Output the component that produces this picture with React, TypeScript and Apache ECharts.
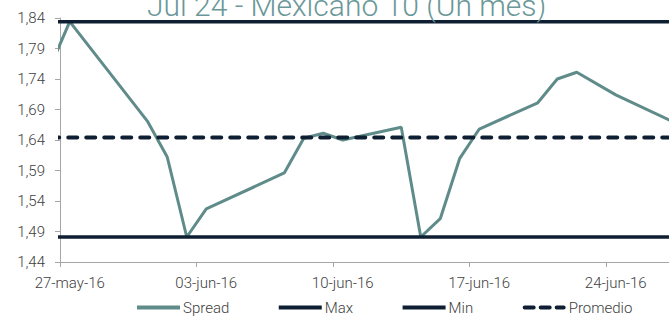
import React, { useEffect, useRef } from "react";
import * as echarts from "echarts";

const dates = [
  "2016-05-26", "2016-05-27", "2016-05-31", "2016-06-01", "2016-06-02",
  "2016-06-03", "2016-06-07", "2016-06-08", "2016-06-09", "2016-06-10",
  "2016-06-13", "2016-06-14", "2016-06-15", "2016-06-16", "2016-06-17",
  "2016-06-20", "2016-06-21", "2016-06-22", "2016-06-24", "2016-06-27",
];
const spread = [
  1.76, 1.834, 1.67, 1.612, 1.481,
  1.527, 1.586, 1.643, 1.651, 1.64,
  1.661, 1.481, 1.511, 1.61, 1.658,
  1.701, 1.74, 1.751, 1.714, 1.669,
];
const maxValue = 1.834;
const minValue = 1.481;
const promedioValue = 1.644;

const xTickDates = ["2016-05-27", "2016-06-03", "2016-06-10", "2016-06-17", "2016-06-24"];
const yTicks = [1.44, 1.49, 1.54, 1.59, 1.64, 1.69, 1.74, 1.79, 1.84];
const monthNames = ["ene", "feb", "mar", "abr", "may", "jun", "jul", "ago", "sep", "oct", "nov", "dic"];

const title = "Jul 24 - Mexicano 10 (Un mes)";

const DAY = 86400000;
const toUTC = (s: string) => {
  const [y, m, d] = s.split("-").map(Number);
  return Date.UTC(y, m - 1, d);
};
const base = toUTC(xTickDates[0]);
const dayOf = (s: string) => (toUTC(s) - base) / DAY;
const fmtDay = (v: number) => {
  const dt = new Date(base + Math.floor(v) * DAY);
  const dd = String(dt.getUTCDate()).padStart(2, "0");
  const yy = String(dt.getUTCFullYear()).slice(2);
  return `${dd}-${monthNames[dt.getUTCMonth()]}-${yy}`;
};

const solidIcon = "path://M0,0 H43 V4 H0 Z";
const dashIcon =
  "path://M2,0 H11 A2,2 0 0 1 11,4 H2 A2,2 0 0 1 2,0 Z M18,0 H27 A2,2 0 0 1 27,4 H18 A2,2 0 0 1 18,0 Z M34,0 H41 A2,2 0 0 1 41,4 H34 A2,2 0 0 1 34,0 Z";

export default function App() {
  const ref = useRef<HTMLDivElement>(null);
  useEffect(() => {
    if (!ref.current) return;
    const chart = echarts.init(ref.current, null, { renderer: "svg" });
    const xs = dates.map((d) => dayOf(d) + 0.5);
    const navy = "#0f1f33";
    const teal = "#5f8c8a";
    const font = "Roboto";
    chart.setOption({
      animation: false,
      graphic: [
        {
          type: "text",
          x: 147,
          y: 5,
          style: {
            text: title,
            font: `300 30px ${font}`,
            fill: "#6a9898",
            verticalAlign: "middle",
            align: "left",
          },
          z: 10,
        },
      ],
      grid: { left: 60, right: 0, top: 18, bottom: 54, containLabel: false },
      legend: {
        left: 137,
        top: 300,
        padding: 0,
        itemWidth: 43,
        itemHeight: 4,
        itemGap: 49.5,
        textStyle: { fontFamily: font, fontWeight: 300, fontSize: 15, color: "#404040", padding: [0, 0, 0, -2] },
        data: [
          { name: "Spread", icon: solidIcon },
          { name: "Max", icon: solidIcon },
          { name: "Min", icon: solidIcon },
          { name: "Promedio", icon: dashIcon },
        ],
      },
      xAxis: {
        type: "value",
        min: 0,
        max: 31.23,
        axisLine: { show: true, lineStyle: { color: "#a6a6a6", width: 1 } },
        axisTick: {
          show: true,
          length: 5,
          lineStyle: { color: "#a6a6a6" },
          customValues: xTickDates.map(dayOf),
        },
        axisLabel: {
          customValues: xTickDates.map((d) => dayOf(d) + 0.5),
          formatter: (v: number) => fmtDay(v),
          fontFamily: font,
          fontWeight: 300,
          fontSize: 15,
          color: "#404040",
          margin: 13,
        },
        splitLine: { show: false },
      },
      yAxis: {
        type: "value",
        min: yTicks[0],
        max: yTicks[yTicks.length - 1],
        axisLine: { show: true, lineStyle: { color: "#a6a6a6", width: 1 } },
        axisTick: { show: true, length: 5, lineStyle: { color: "#a6a6a6" }, customValues: yTicks },
        axisLabel: {
          customValues: yTicks,
          formatter: (v: number) => v.toFixed(2).replace(".", ","),
          fontFamily: font,
          fontWeight: 300,
          fontSize: 15,
          color: "#404040",
          margin: 15,
        },
        splitLine: { show: false },
      },
      series: [
        {
          name: "Spread",
          type: "line",
          symbol: "none",
          data: xs.map((x, i) => [x, spread[i]]),
          lineStyle: { color: teal, width: 3 },
          itemStyle: { color: teal },
          clip: true,
        },
        {
          name: "Max",
          type: "line",
          symbol: "none",
          data: xs.map((x) => [x, maxValue]),
          lineStyle: { color: navy, width: 3.5 },
          itemStyle: { color: navy },
          clip: true,
        },
        {
          name: "Min",
          type: "line",
          symbol: "none",
          data: xs.map((x) => [x, minValue]),
          lineStyle: { color: navy, width: 3.5 },
          itemStyle: { color: navy },
          clip: true,
        },
        {
          name: "Promedio",
          type: "line",
          symbol: "none",
          data: xs.map((x) => [x, promedioValue]),
          lineStyle: { color: navy, width: 4, type: [9, 9], cap: "round" },
          itemStyle: { color: navy },
          clip: true,
        },
      ],
    });
    return () => chart.dispose();
  }, []);
  return (
    <div
      ref={ref}
      style={{ position: "absolute", left: 0, top: 0, width: 669, height: 316 }}
    />
  );
}
